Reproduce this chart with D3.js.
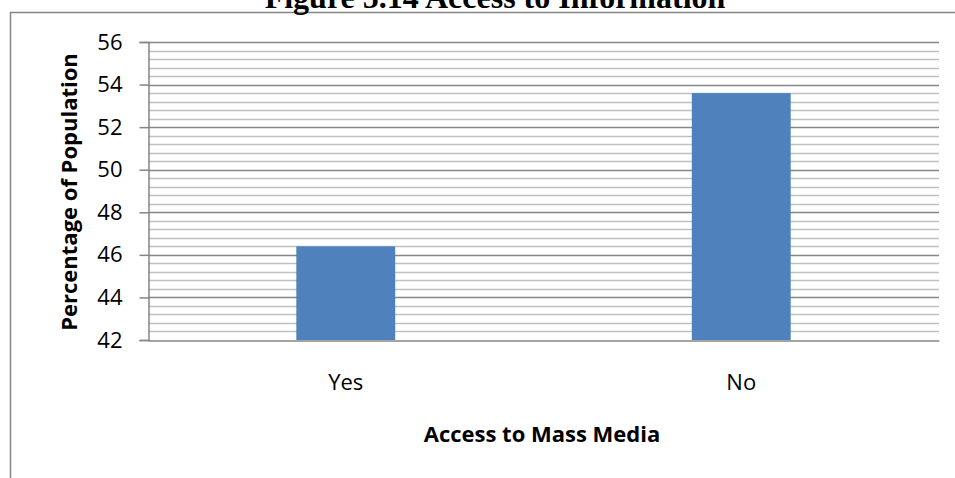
<!DOCTYPE html>
<html>
<head>
<meta charset="utf-8">
<script src="https://cdn.jsdelivr.net/npm/d3@7"></script>
<style>
  body { margin: 0; background: #fff; }
</style>
</head>
<body>
<script>
var categories = ["Yes", "No"];
var values = [46.4, 53.6];
var yTicks = [42, 44, 46, 48, 50, 52, 54, 56];

var width = 955;
var height = 478;
var plot = { left: 148, right: 939, top: 42, bottom: 340 };

var svg = d3.select("body")
  .append("svg")
  .attr("width", width)
  .attr("height", height);

// outer chart border, runs off the right and bottom edges
svg.append("rect")
  .attr("x", 10.5)
  .attr("y", 12.5)
  .attr("width", 960)
  .attr("height", 480)
  .attr("fill", "none")
  .attr("stroke", "#868686")
  .attr("stroke-width", 1.5);

// title is clipped at the top, as in the source page
svg.append("text")
  .attr("x", 495)
  .attr("y", 8)
  .attr("text-anchor", "middle")
  .attr("font-family", "Liberation Serif")
  .attr("font-weight", "bold")
  .attr("font-size", "32px")
  .text("Figure 5.14 Access to Information");

var x = d3.scaleBand()
  .domain(categories)
  .range([plot.left, plot.right])
  .paddingInner(0.75)
  .paddingOuter(0.375);

var y = d3.scaleLinear()
  .domain([42, 56])
  .range([plot.bottom, plot.top]);

// minor gridlines every 0.4
var minor = d3.range(42, 56.0001, 0.4).filter(function(v) {
  return Math.abs(v / 2 - Math.round(v / 2)) > 0.01;
});
svg.append("g")
  .selectAll("line")
  .data(minor)
  .enter()
  .append("line")
  .attr("x1", plot.left)
  .attr("x2", plot.right)
  .attr("y1", function(d) { return Math.round(y(d)) + 0.5; })
  .attr("y2", function(d) { return Math.round(y(d)) + 0.5; })
  .attr("stroke", "#c0c0c0")
  .attr("stroke-width", 1.3);

// major gridlines
svg.append("g")
  .selectAll("line")
  .data(yTicks.slice(1))
  .enter()
  .append("line")
  .attr("x1", plot.left)
  .attr("x2", plot.right)
  .attr("y1", function(d) { return Math.round(y(d)) + 0.5; })
  .attr("y2", function(d) { return Math.round(y(d)) + 0.5; })
  .attr("stroke", "#868686")
  .attr("stroke-width", 1.3);

svg.append("g")
  .selectAll("rect")
  .data(values)
  .enter()
  .append("rect")
  .attr("x", function(d, i) { return x(categories[i]); })
  .attr("y", function(d) { return y(d); })
  .attr("width", x.bandwidth())
  .attr("height", function(d) { return plot.bottom - y(d); })
  .attr("fill", "#4f81bd");

// y axis
var yAxis = svg.append("g")
  .attr("transform", "translate(" + (plot.left + 0.5) + ",0)")
  .call(d3.axisLeft(y).tickValues(yTicks).tickSize(9).tickPadding(17));
yAxis.select(".domain").attr("stroke", "#868686").attr("stroke-width", 1.5);
yAxis.selectAll(".tick line").attr("stroke", "#868686").attr("stroke-width", 1.5);
yAxis.selectAll(".tick text")
  .attr("font-family", "Open Sans")
  .attr("font-size", "22px")
  .attr("fill", "#000");

// x axis
var xAxis = svg.append("g")
  .attr("transform", "translate(0," + (plot.bottom + 0.5) + ")")
  .call(d3.axisBottom(x).tickSize(0).tickPadding(34));
xAxis.select(".domain").attr("stroke", "#868686").attr("stroke-width", 1.5);
xAxis.selectAll(".tick text")
  .attr("font-family", "Open Sans")
  .attr("font-size", "22px")
  .attr("fill", "#000");

svg.append("text")
  .attr("x", 542)
  .attr("y", 442)
  .attr("text-anchor", "middle")
  .attr("font-family", "Open Sans")
  .attr("font-weight", "bold")
  .attr("font-size", "22px")
  .text("Access to Mass Media");

svg.append("text")
  .attr("transform", "translate(77,192) rotate(-90)")
  .attr("text-anchor", "middle")
  .attr("font-family", "Open Sans")
  .attr("font-weight", "bold")
  .attr("font-size", "22px")
  .text("Percentage of Population");
</script>
</body>
</html>
